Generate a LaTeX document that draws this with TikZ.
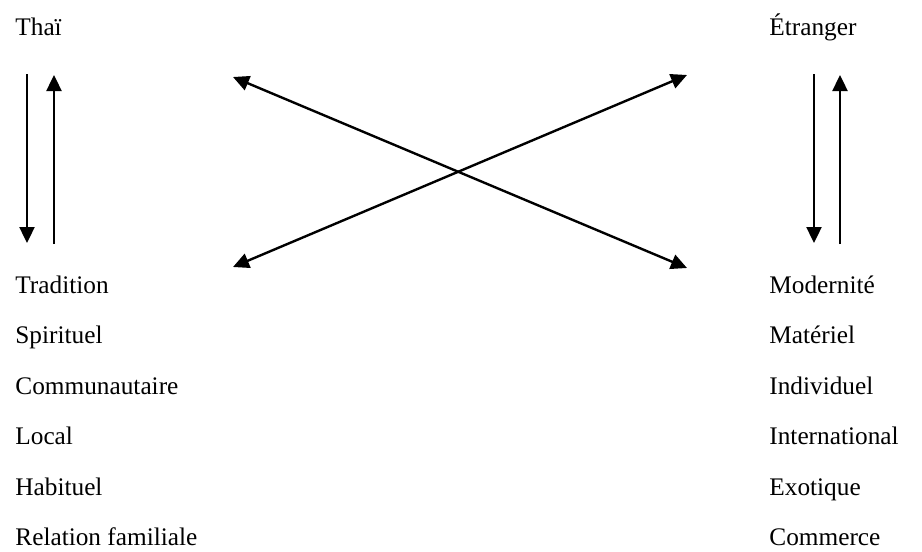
\documentclass[tikz,border=0pt]{standalone}
\usepackage{fontspec}
\setmainfont{Liberation Serif}
\usetikzlibrary{arrows.meta, positioning}

\begin{document}
\begin{tikzpicture}[x=0.5pt, y=-0.5pt,
        word/.style={anchor=base west, inner sep=0pt, font=\fontsize{12.65}{15}\selectfont},
        link/.style={line width=1.2pt, -{Triangle[length=8pt, width=7.5pt]}},
        twoway/.style={line width=1.2pt, {Triangle[length=8pt, width=7.5pt]}-{Triangle[length=8pt, width=7.5pt]}}]
            \useasboundingbox (0,0) rectangle (922,552);

            % Headings
            \node[word] (thai) at (15,35) {Thaï};
            \node[word] (etranger) at (769,35) {Étranger};

            % Left column
            \node[word] (tradition) at (15,293) {Tradition};
            \node[word] (spirituel) at (15,343) {Spirituel};
            \node[word] (communautaire) at (15,394) {Communautaire};
            \node[word] (local) at (15,444) {Local};
            \node[word] (habituel) at (15,495) {Habituel};
            \node[word] (relation) at (15,545) {Relation familiale};

            % Right column
            \node[word] (modernite) at (769,293) {Modernité};
            \node[word] (materiel) at (769,343) {Matériel};
            \node[word] (individuel) at (769,394) {Individuel};
            \node[word] (international) at (769,444) {International};
            \node[word] (exotique) at (769,495) {Exotique};
            \node[word] (commerce) at (769,545) {Commerce};

            % Arrow ends
            \coordinate (thaiDownA) at (27,74);
            \coordinate (thaiDownB) at (27,243);
            \coordinate (thaiUpA) at (54,244);
            \coordinate (thaiUpB) at (54,75);
            \coordinate (etrDownA) at (814,74);
            \coordinate (etrDownB) at (814,243);
            \coordinate (etrUpA) at (840,244);
            \coordinate (etrUpB) at (840,75);
            \coordinate (crossNW) at (233,77);
            \coordinate (crossSE) at (687,268);
            \coordinate (crossSW) at (233,267);
            \coordinate (crossNE) at (687,75);

            % Arrows
            \draw[link] (thaiDownA) -- (thaiDownB);
            \draw[link] (thaiUpA) -- (thaiUpB);
            \draw[link] (etrDownA) -- (etrDownB);
            \draw[link] (etrUpA) -- (etrUpB);
            \draw[twoway] (crossNW) -- (crossSE);
            \draw[twoway] (crossSW) -- (crossNE);
        \end{tikzpicture}
\end{document}
